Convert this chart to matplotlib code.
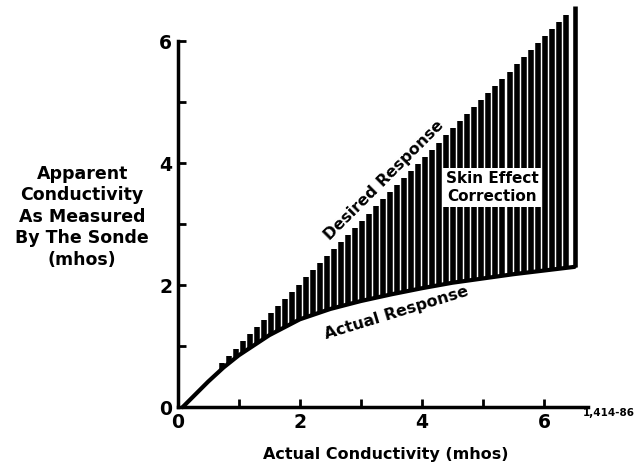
"""Skin effect correction: apparent vs actual conductivity."""

import matplotlib

matplotlib.use("Agg")
import matplotlib.pyplot as plt
import numpy as np
from matplotlib.ticker import MultipleLocator

# Actual response of the sonde
actual_x = [0.08, 0.25, 0.5, 0.75, 1.0, 1.5, 2.0, 2.5, 3.0, 3.5, 4.0, 4.5, 5.0, 5.5, 6.0, 6.5]
actual_y = [0.0, 0.17, 0.42, 0.65, 0.85, 1.18, 1.44, 1.61, 1.74, 1.85, 1.95, 2.04, 2.11, 2.18, 2.24, 2.3]

# Desired (linear) response, end points
desired_x = [0.0, 6.5]
desired_y = [0.0, 6.58]

x_ticks = [0, 2, 4, 6]
y_ticks = [0, 2, 4, 6]

plt.rcParams["font.family"] = ["DejaVu Sans"]
plt.rcParams["font.weight"] = "bold"

fig = plt.figure(figsize=(6.37, 4.68), dpi=100)
ax = fig.add_axes([0.279, 0.13, 0.644, 0.782])
ax.set_xlim(0, 6.72)
ax.set_ylim(0, 6)

# hatch between the two responses
hx = np.arange(0.72, 6.45, 0.115)
lo = np.interp(hx, actual_x, actual_y)
hi = np.interp(hx, desired_x, desired_y)
ax.vlines(hx, lo, hi, colors="black", linewidth=4.0, clip_on=False)
ax.vlines([desired_x[-1]], [actual_y[-1]], [desired_y[-1]], colors="black",
          linewidth=3.3, clip_on=False)

ax.plot(actual_x, actual_y, color="black", lw=3, solid_capstyle="round",
        solid_joinstyle="round", clip_on=False)

ax.text(3.38, 3.72, "Desired Response", rotation=45, ha="center", va="center",
        fontsize=11.5, fontweight="bold")
ax.text(5.15, 3.6, "Skin Effect\nCorrection", ha="center", va="center",
        fontsize=11, fontweight="bold", linespacing=1.25,
        bbox=dict(facecolor="white", edgecolor="none", pad=2))
ax.text(3.58, 1.55, "Actual Response", rotation=17, ha="center", va="center",
        fontsize=11.5, fontweight="bold")

for s in ("top", "right"):
    ax.spines[s].set_visible(False)
for s in ("left", "bottom"):
    ax.spines[s].set_linewidth(2.5)

ax.set_xticks(x_ticks)
ax.set_yticks(y_ticks)
ax.xaxis.set_minor_locator(MultipleLocator(1))
ax.yaxis.set_minor_locator(MultipleLocator(1))
ax.tick_params(which="both", direction="in", width=2, labelsize=13.5)
ax.tick_params(which="major", length=6, pad=4)
ax.tick_params(which="minor", length=6)
for lab in ax.get_xticklabels() + ax.get_yticklabels():
    lab.set_fontweight("bold")

fig.text(0.129, 0.537, "Apparent\nConductivity\nAs Measured\nBy The Sonde\n(mhos)",
         ha="center", va="center", fontsize=12.5, fontweight="bold", linespacing=1.25)
fig.text(0.605, 0.028, "Actual Conductivity (mhos)", ha="center", va="center",
         fontsize=11.5, fontweight="bold")
fig.text(0.915, 0.118, "1,414-86", ha="left", va="center", fontsize=7.5, fontweight="bold")

fig.savefig("out.png", dpi=100)
